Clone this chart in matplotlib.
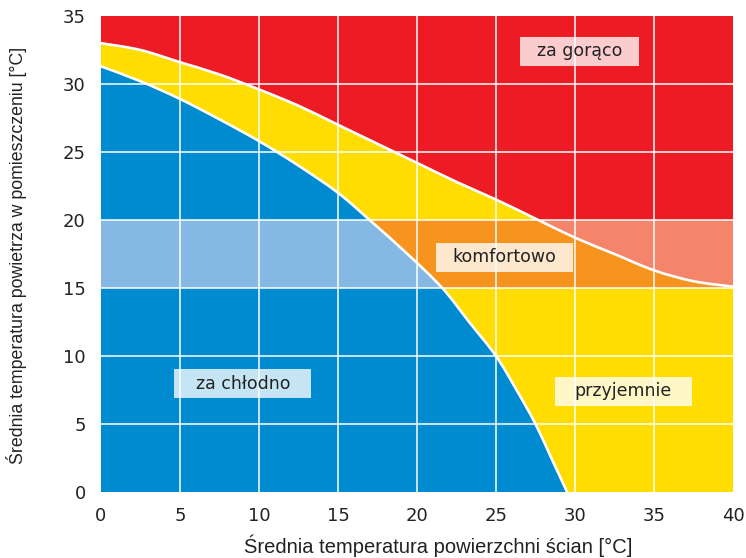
import matplotlib
matplotlib.use("Agg")
import matplotlib.pyplot as plt
from matplotlib.patches import Rectangle, PathPatch
from matplotlib.path import Path

# ---- data ----
x_ticks = [0, 5, 10, 15, 20, 25, 30, 35, 40]
y_ticks = [0, 5, 10, 15, 20, 25, 30, 35]

# boundary between "za chłodno" and the rest (blue / yellow)
lower_x = [0, 2.5, 5, 7.5, 10, 12.5, 15, 17, 19.4, 21.6, 23.3, 25, 26.3, 27.5, 28.5, 29.5]
lower_y = [31.3, 30.2, 28.9, 27.4, 25.8, 24.0, 22.0, 20.0, 17.5, 15.0, 12.5, 10.0, 7.5, 5.0, 2.5, 0.0]

# boundary between "za gorąco" and the rest (yellow / red)
upper_x = [0, 2.5, 5, 7.5, 10, 12.5, 15, 17.5, 20, 22.5, 25, 27.5, 30, 32.5, 35, 37.5, 40]
upper_y = [33.0, 32.5, 31.6, 30.7, 29.6, 28.4, 27.0, 25.6, 24.2, 22.8, 21.5, 20.1, 18.7, 17.5, 16.3, 15.5, 15.1]

comfort_band = (15, 20)

labels = ["za gorąco", "komfortowo", "za chłodno", "przyjemnie"]
label_x = [30.3, 25.55, 8.98, 33.05]
label_y = [32.4, 17.25, 7.95, 7.4]

x_label = "Średnia temperatura powierzchni ścian [°C]"
y_label = "Średnia temperatura powietrza w pomieszczeniu [°C]"

# ---- colours ----
RED, YELLOW, BLUE = "#ED1C24", "#FFDD00", "#008ACF"
RED_B, YELLOW_B, BLUE_B = "#F4856A", "#F7941E", "#85B8E3"


def smooth_segments(xs, ys):
    """Bezier (CURVE4) vertices/codes passing through the given points."""
    pts = list(zip(xs, ys))
    n = len(pts)
    verts, codes = [], []
    for i in range(n - 1):
        p0 = pts[i - 1] if i > 0 else pts[i]
        p1 = pts[i]
        p2 = pts[i + 1]
        p3 = pts[i + 2] if i + 2 < n else pts[i + 1]
        c1 = (p1[0] + (p2[0] - p0[0]) / 6, p1[1] + (p2[1] - p0[1]) / 6)
        c2 = (p2[0] - (p3[0] - p1[0]) / 6, p2[1] - (p3[1] - p1[1]) / 6)
        verts += [c1, c2, p2]
        codes += [Path.CURVE4] * 3
    return verts, codes


def region(prefix, xs, ys, suffix):
    v, c = smooth_segments(xs, ys)
    verts = prefix + [(xs[0], ys[0])] + v + suffix + [prefix[0]]
    codes = ([Path.MOVETO] + [Path.LINETO] * (len(prefix) - 1) + [Path.LINETO]
             + c + [Path.LINETO] * len(suffix) + [Path.CLOSEPOLY])
    return Path(verts, codes)


def curve(xs, ys):
    v, c = smooth_segments(xs, ys)
    return Path([(xs[0], ys[0])] + v, [Path.MOVETO] + c)


fig = plt.figure(figsize=(7.46, 5.58), dpi=100)
ax = fig.add_axes([101 / 746, 1 - 492 / 558, 632 / 746, 476 / 558])
ax.set_xlim(0, 40)
ax.set_ylim(0, 35)

red_path = region([(0, 35)], upper_x, upper_y, [(40, 35)])
yellow_path = region([(0, 0)], upper_x, upper_y, [(40, 0)])
blue_path = region([(0, 0)], lower_x, lower_y, [])

b0, b1 = comfort_band
for p, c, cb in [(red_path, RED, RED_B), (yellow_path, YELLOW, YELLOW_B), (blue_path, BLUE, BLUE_B)]:
    ax.add_patch(PathPatch(p, facecolor=c, lw=0, zorder=1))
    band = PathPatch(p, facecolor=cb, lw=0, zorder=1.5)
    ax.add_patch(band)
    band.set_clip_path(Rectangle((0, b0), 40, b1 - b0, transform=ax.transData))

# grid (white)
for v in x_ticks[1:-1]:
    ax.axvline(v, color="white", lw=1.1, zorder=2.5)
for v in y_ticks[1:-1]:
    ax.axhline(v, color="white", lw=1.1, zorder=2.5)

# boundary curves
for xs, ys in [(lower_x, lower_y), (upper_x, upper_y)]:
    ax.add_patch(PathPatch(curve(xs, ys), facecolor="none", edgecolor="white",
                           lw=1.9, zorder=3, capstyle="butt"))

# labels with semi-transparent boxes
box_h = 29 / 13.6
for i, (t, lx, ly) in enumerate(zip(labels, label_x, label_y)):
    w = (119 if i == 0 else 137) / 15.8
    ax.add_patch(Rectangle((lx - w / 2, ly - box_h / 2), w, box_h,
                           facecolor="white", alpha=0.78, lw=0, zorder=4))
    ax.text(lx, ly, t, ha="center", va="center", fontsize=12.5,
            family="DejaVu Sans", color="#222222", zorder=5)

for s in ax.spines.values():
    s.set_visible(False)
ax.set_xticks(x_ticks)
ax.set_yticks(y_ticks)
ax.tick_params(length=0, pad=11, labelsize=13, labelcolor="#222222")
for lab in ax.get_xticklabels() + ax.get_yticklabels():
    lab.set_family("DejaVu Sans")

fam = ["Liberation Sans Narrow", "Liberation Sans", "DejaVu Sans"]
ax.set_xlabel(x_label, fontsize=14.5, family=fam, color="#222222", va="center")
ax.set_ylabel(y_label, fontsize=12.8, family=fam, color="#222222", va="center")
ax.xaxis.set_label_coords(0.533, -0.113)
ax.yaxis.set_label_coords(-0.133, 0.498)

fig.savefig("out.png", dpi=100)
